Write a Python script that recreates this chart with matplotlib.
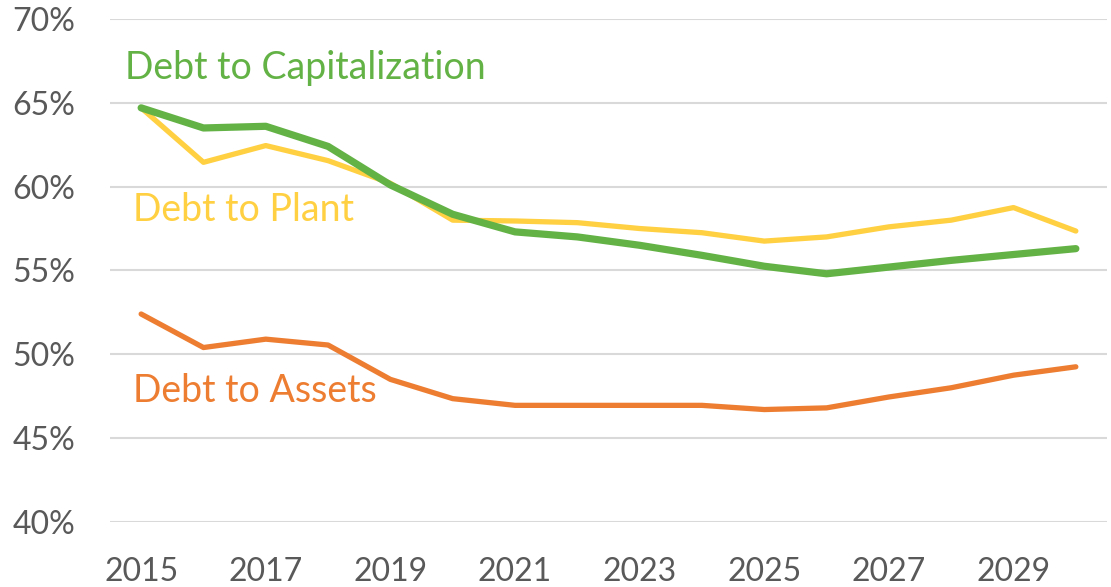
import matplotlib
matplotlib.use("Agg")
from matplotlib import pyplot as plt
from matplotlib.ticker import FuncFormatter

years = list(range(2015, 2031))

debt_to_capitalization = [64.7, 63.5, 63.6, 62.4, 60.1, 58.35, 57.3, 57.0, 56.5, 55.9,
                          55.25, 54.8, 55.2, 55.6, 55.95, 56.3]
debt_to_plant = [64.7, 61.45, 62.45, 61.55, 60.2, 58.0, 57.95, 57.85, 57.5, 57.25,
                 56.75, 57.0, 57.6, 58.0, 58.75, 57.35]
debt_to_assets = [52.4, 50.4, 50.9, 50.55, 48.5, 47.35, 46.95, 46.95, 46.95, 46.95,
                  46.7, 46.8, 47.45, 48.0, 48.75, 49.25]

series_labels = ['Debt to Capitalization', 'Debt to Plant', 'Debt to Assets']
y_ticks = [40, 45, 50, 55, 60, 65, 70]
x_ticks = [2015, 2017, 2019, 2021, 2023, 2025, 2027, 2029]

GREEN = '#63B246'
YELLOW = '#FFD042'
ORANGE = '#ED7D31'
GREY = '#595959'

plt.rcParams['font.family'] = ['Lato', 'DejaVu Sans']

fig = plt.figure(figsize=(11.11, 5.87), dpi=100)
ax = fig.add_axes([0.099, 0.111, 0.8974, 0.8566])

ax.plot(years, debt_to_plant, color=YELLOW, lw=3.8, solid_capstyle='round', zorder=3)
ax.plot(years, debt_to_capitalization, color=GREEN, lw=5.2, solid_capstyle='round', zorder=4)
ax.plot(years, debt_to_assets, color=ORANGE, lw=3.8, solid_capstyle='round', zorder=3)

ax.text(2014.74, 66.45, series_labels[0], color=GREEN, fontsize=27, va='baseline', ha='left')
ax.text(2014.87, 57.95, series_labels[1], color=YELLOW, fontsize=27, va='baseline', ha='left')
ax.text(2014.87, 47.16, series_labels[2], color=ORANGE, fontsize=27, va='baseline', ha='left')

ax.set_xlim(2014.5, 2030.5)
ax.set_ylim(40, 70)
ax.set_yticks(y_ticks)
ax.set_xticks(x_ticks)
ax.yaxis.set_major_formatter(FuncFormatter(lambda v, _: f'{v:.0f}%'))
ax.grid(axis='y', color='#D9D9D9', lw=1.5)
ax.set_axisbelow(True)
for s in ax.spines.values():
    s.set_visible(False)
ax.tick_params(axis='both', length=0, labelsize=23, colors=GREY)
ax.tick_params(axis='y', pad=25)
ax.tick_params(axis='x', pad=25)

fig.savefig('out.png', dpi=100)
